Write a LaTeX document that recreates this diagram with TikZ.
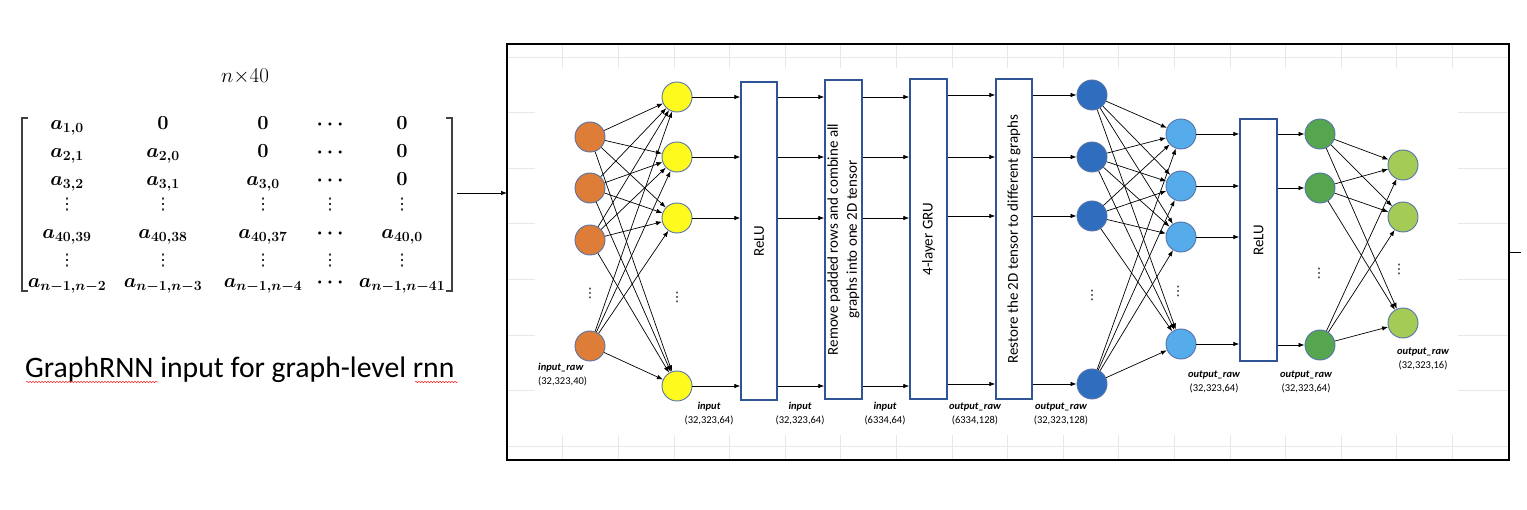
\RequirePackage{fix-cm}
\documentclass[tikz,border=0pt]{standalone}
\usepackage[no-math]{fontspec}
\setmainfont{Carlito}
\newfontfamily\symfont{DejaVu Sans}
\usetikzlibrary{arrows.meta,decorations.pathmorphing}
\definecolor{orangeN}{RGB}{222,125,55}
\definecolor{yellowN}{RGB}{255,250,30}
\definecolor{dblue}{RGB}{47,110,190}
\definecolor{lblue}{RGB}{86,172,235}
\definecolor{greenN}{RGB}{86,166,80}
\definecolor{lgreen}{RGB}{163,203,86}
\definecolor{nodeedge}{RGB}{85,115,165}
\definecolor{boxedge}{RGB}{47,85,151}
\definecolor{gridc}{RGB}{232,232,232}
\begin{document}
\begin{tikzpicture}[x=1pt,y=-1pt,
  neuron/.style={circle, minimum size=30pt, inner sep=0pt, draw=nodeedge, line width=0.9pt},
  layerbox/.style={draw=boxedge, line width=1.4pt, fill=white, inner sep=0pt},
  boxtext/.style={font=\fontsize{15}{19}\selectfont, rotate=90, align=center, inner sep=0pt},
  conn/.style={-{Latex[length=6pt,width=4.5pt]}, line width=0.7pt},
  lbl/.style={font=\fontsize{10.5}{14}\selectfont, align=center, inner sep=0pt},
  mat/.style={font=\fontsize{20}{24}\selectfont\boldmath, inner sep=0pt, anchor=base},
  vd/.style={font=\fontsize{16}{18}\selectfont\symfont, inner sep=0pt},
  dots/.style={font=\fontsize{13}{15}\selectfont\symfont, inner sep=0pt},
  gline/.style={draw=gridc, line width=0.6pt},
  squiggle/.style={draw=red!85, line width=0.5pt, decorate, decoration={snake, amplitude=0.7pt, segment length=3pt}}
]
\useasboundingbox (0,0) rectangle (1527,510);

% ---------------- matrix ----------------
\node[font=\fontsize{21}{25}\selectfont, inner sep=0pt] (dim) at (245,77) {$n{\times}40$};
\node[mat] (m11) at (67,130) {$a_{1,0}$};
\node[mat] (m12) at (163,130) {$0$};
\node[mat] (m13) at (263,130) {$0$};
\node[mat] (m14) at (330,130) {$\cdots$};
\node[mat] (m15) at (402,130) {$0$};
\node[mat] (m21) at (67,158) {$a_{2,1}$};
\node[mat] (m22) at (163,158) {$a_{2,0}$};
\node[mat] (m23) at (263,158) {$0$};
\node[mat] (m24) at (330,158) {$\cdots$};
\node[mat] (m25) at (402,158) {$0$};
\node[mat] (m31) at (67,186) {$a_{3,2}$};
\node[mat] (m32) at (163,186) {$a_{3,1}$};
\node[mat] (m33) at (263,186) {$a_{3,0}$};
\node[mat] (m34) at (330,186) {$\cdots$};
\node[mat] (m35) at (402,186) {$0$};
\node[vd] (v41) at (67,205) {⋮};
\node[vd] (v42) at (163,205) {⋮};
\node[vd] (v43) at (263,205) {⋮};
\node[vd] (v44) at (330,205) {⋮};
\node[vd] (v45) at (402,205) {⋮};
\node[mat] (m51) at (67,239) {$a_{40,39}$};
\node[mat] (m52) at (163,239) {$a_{40,38}$};
\node[mat] (m53) at (263,239) {$a_{40,37}$};
\node[mat] (m54) at (330,239) {$\cdots$};
\node[mat] (m55) at (402,239) {$a_{40,0}$};
\node[vd] (v61) at (67,261) {⋮};
\node[vd] (v62) at (163,261) {⋮};
\node[vd] (v63) at (263,261) {⋮};
\node[vd] (v64) at (330,261) {⋮};
\node[vd] (v65) at (402,261) {⋮};
\node[mat] (m71) at (67,288) {$a_{n-1,n-2}$};
\node[mat] (m72) at (163,288) {$a_{n-1,n-3}$};
\node[mat] (m73) at (263,288) {$a_{n-1,n-4}$};
\node[mat] (m74) at (330,288) {$\cdots$};
\node[mat] (m75) at (402,288) {$a_{n-1,n-41}$};
\draw[line width=1.5pt, black!75] (28,118) -- (22,118) -- (22,291) -- (28,291);
\draw[line width=1.5pt, black!75] (446,118) -- (452,118) -- (452,291) -- (446,291);

\node[font=\fontsize{29.7}{34}\selectfont, anchor=west, inner sep=0pt] (cap) at (25,370) {GraphRNN input for graph-level rnn};
\draw[squiggle] (26,382) -- (158,382);
\draw[squiggle] (415,382) -- (458,382);

% ---------------- frame with faint grid ----------------
\begin{scope}
\clip (507,44) rectangle (1509,460);
\foreach \i in {0,...,18} \draw[gline] ({507+55.6*\i},44) -- ({507+55.6*\i},460);
\foreach \j in {0,...,7} \draw[gline] (507,{57+55.6*\j}) -- (1509,{57+55.6*\j});
\fill[white] (535,68) rectangle (1458,435);
\end{scope}
\draw[line width=1.2pt] (507,44) rectangle (1509,460);
\coordinate (ms) at (457,193);
\coordinate (fe) at (507,193);
\draw[conn] (ms) -- (fe);
\coordinate (ts) at (1509,252);
\coordinate (te) at (1521,252);
\draw[line width=0.8pt] (ts) -- (te);

% ---------------- neurons ----------------
\node[neuron, fill=orangeN] (o1) at (590,137) {};
\node[neuron, fill=orangeN] (o2) at (590,188) {};
\node[neuron, fill=orangeN] (o3) at (590,240) {};
\node[neuron, fill=orangeN] (o4) at (590,346) {};
\node[dots] (od) at (590,293) {⋮};

\node[neuron, fill=yellowN] (y1) at (677,97) {};
\node[neuron, fill=yellowN] (y2) at (677,157) {};
\node[neuron, fill=yellowN] (y3) at (677,218) {};
\node[neuron, fill=yellowN] (y4) at (677,386) {};
\node[dots] (yd) at (677,297) {⋮};

\node[neuron, fill=dblue] (d1) at (1092,95) {};
\node[neuron, fill=dblue] (d2) at (1092,157) {};
\node[neuron, fill=dblue] (d3) at (1092,216) {};
\node[neuron, fill=dblue] (d4) at (1092,384) {};
\node[dots] (dd) at (1092,295) {⋮};

\node[neuron, fill=lblue] (l1) at (1181,134) {};
\node[neuron, fill=lblue] (l2) at (1181,186) {};
\node[neuron, fill=lblue] (l3) at (1181,237) {};
\node[neuron, fill=lblue] (l4) at (1181,344) {};
\node[dots] (ld) at (1178,291) {⋮};

\node[neuron, fill=greenN] (g1) at (1320,134) {};
\node[neuron, fill=greenN] (g2) at (1320,188) {};
\node[neuron, fill=greenN] (g3) at (1320,345) {};
\node[dots] (gd) at (1319,273) {⋮};

\node[neuron, fill=lgreen] (k1) at (1403,165) {};
\node[neuron, fill=lgreen] (k2) at (1403,217) {};
\node[neuron, fill=lgreen] (k3) at (1403,323) {};
\node[dots] (kd) at (1399,269) {⋮};

% ---------------- boxes ----------------
\node[layerbox, minimum width=36pt, minimum height=318pt] (relu1) at (759,241) {};
\node[boxtext] (relu1t) at (relu1.center) {ReLU};
\node[layerbox, minimum width=37pt, minimum height=319pt] (rem) at (843.5,239.5) {};
\node[boxtext] (remt) at (rem.center) {Remove padded rows and combine all\\graphs into one 2D tensor};
\node[layerbox, minimum width=37pt, minimum height=320pt] (gru) at (928.5,239) {};
\node[boxtext] (grut) at (gru.center) {4-layer GRU};
\node[layerbox, minimum width=36pt, minimum height=320pt] (rest) at (1014,239) {};
\node[boxtext] (restt) at (rest.center) {Restore the 2D tensor to different graphs};
\node[layerbox, minimum width=37pt, minimum height=242pt] (relu2) at (1258.5,240) {};
\node[boxtext] (relu2t) at (relu2.center) {ReLU};

% ---------------- connectors ----------------
\foreach \a in {o1,o2,o3,o4} \foreach \b in {y1,y2,y3,y4} \draw[conn] (\a) -- (\b);
\foreach \a in {d1,d2,d3,d4} \foreach \b in {l1,l2,l3,l4} \draw[conn] (\a) -- (\b);
\foreach \a in {g1,g2,g3} \foreach \b in {k1,k2,k3} \draw[conn] (\a) -- (\b);
\foreach \a in {y1,y2,y3,y4} {
  \draw[conn] (\a) -- (relu1.west |- \a);
  \draw[conn] (relu1.east |- \a) -- (rem.west |- \a);
  \draw[conn] (rem.east |- \a) -- (gru.west |- \a);
}
\foreach \a in {d1,d2,d3,d4} {
  \draw[conn] (gru.east |- \a) -- (rest.west |- \a);
  \draw[conn] (rest.east |- \a) -- (\a);
}
\foreach \a in {l1,l2,l3,l4} \draw[conn] (\a) -- (relu2.west |- \a);
\foreach \a in {g1,g2,g3} \draw[conn] (relu2.east |- \a) -- (\a);

% ---------------- labels ----------------
\node[lbl, align=left, anchor=west] (lab0) at (538,375) {{\bfseries\itshape input\_raw}\\(32,323,40)};
\node[lbl] (lab1) at (709,414) {{\bfseries\itshape input}\\(32,323,64)};
\node[lbl] (lab2) at (800,414) {{\bfseries\itshape input}\\(32,323,64)};
\node[lbl] (lab3) at (885,414) {{\bfseries\itshape input}\\(6334,64)};
\node[lbl] (lab4) at (975,414) {{\bfseries\itshape output\_raw}\\(6334,128)};
\node[lbl] (lab5) at (1061,414) {{\bfseries\itshape output\_raw}\\(32,323,128)};
\node[lbl] (lab6) at (1214,382) {{\bfseries\itshape output\_raw}\\(32,323,64)};
\node[lbl] (lab7) at (1306,382) {{\bfseries\itshape output\_raw}\\(32,323,64)};
\node[lbl] (lab8) at (1423,359) {{\bfseries\itshape output\_raw}\\(32,323,16)};
\end{tikzpicture}
\end{document}
